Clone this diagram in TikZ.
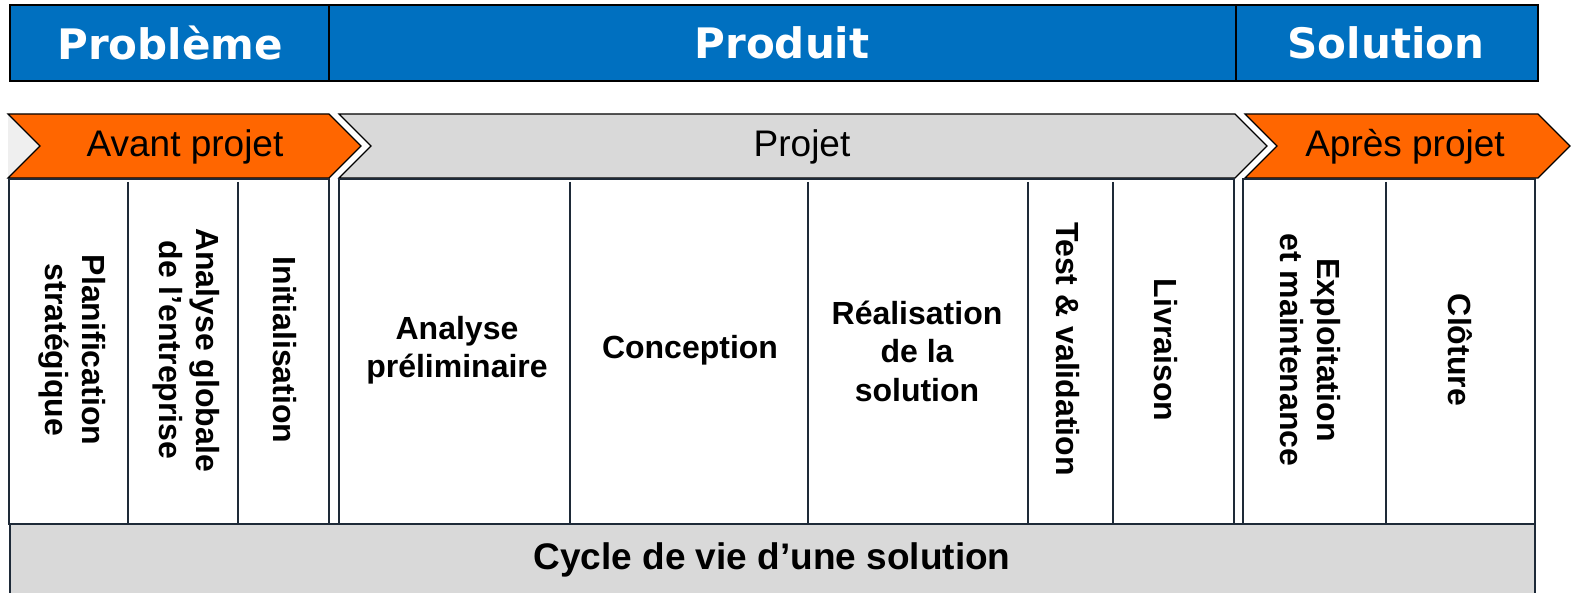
\documentclass[tikz,border=0pt]{standalone}
\usepackage{fontspec}
\setmainfont{Liberation Sans}
\newfontfamily\verd{DejaVu Sans}
\definecolor{barblue}{HTML}{0070C0}
\definecolor{orng}{HTML}{FF6600}
\definecolor{lgray}{HTML}{D9D9D9}
\definecolor{notch}{HTML}{EFEFEF}
\definecolor{edge}{HTML}{1E2A38}
\tikzset{
  barcell/.style={fill=barblue,draw=black,line width=1.5pt},
  bartext/.style={text=white,font=\verd\bfseries\fontsize{42}{48}\selectfont,inner sep=0pt},
  phase/.style={draw=black,line width=1.2pt,line join=miter},
  phasetext/.style={font=\fontsize{37}{42}\selectfont,inner sep=0pt},
  cellbox/.style={fill=white,draw=edge,line width=1.5pt},
  divider/.style={draw=edge,line width=1.5pt},
  vtext/.style={rotate=-90,align=center,font=\bfseries\fontsize{32}{37}\selectfont,inner sep=0pt},
  htext/.style={align=center,font=\bfseries\fontsize{32}{38.5}\selectfont,inner sep=0pt},
  bigtext/.style={font=\bfseries\fontsize{37}{42}\selectfont,inner sep=0pt},
}
\begin{document}
\begin{tikzpicture}[x=1pt,y=-1pt]
\useasboundingbox (0,0) rectangle (1571,593);
% top bar
\path[barcell] (10,5) rectangle (1538,81);
\draw[line width=1.5pt] (329,5) -- (329,81);
\draw[line width=1.5pt] (1236,5) -- (1236,81);
\node[bartext] (prob) at (170,43) {Problème};
\node[bartext] (prod) at (782,43) {Produit};
\node[bartext] (sol) at (1386,43) {Solution};
% phase arrows
\fill[notch] (8,114) -- (40,146) -- (8,178) -- cycle;
\path[phase,fill=orng] (8,114) -- (329,114) -- (361,146) -- (329,178) -- (8,178) -- (40,146) -- cycle;
\path[phase,fill=lgray] (339,114) -- (1235,114) -- (1267,146) -- (1235,178) -- (339,178) -- (371,146) -- cycle;
\path[phase,fill=orng] (1245,114) -- (1538,114) -- (1570,146) -- (1538,178) -- (1245,178) -- (1277,146) -- cycle;
\node[phasetext] (avant) at (185,147) {Avant projet};
\node[phasetext] (projet) at (802,147) {Projet};
\node[phasetext] (apres) at (1405,147) {Après projet};
% cell sections
\path[cellbox] (9,179) rectangle (329,524);
\path[cellbox] (339,179) rectangle (1234,524);
\path[cellbox] (1243,179) rectangle (1535,524);
\foreach \x in {128,238,570,808,1028,1113,1386}{
  \draw[divider] (\x,182) -- (\x,524);
}
% bottom bar
\path[cellbox,fill=lgray] (10,524) rectangle (1535,600);
\node[bigtext] (cycle) at (772,560) {Cycle de vie d’une solution};
% vertical labels
\node[vtext] (plan) at (72,350) {Planification\\stratégique};
\node[vtext] (anaglob) at (186,350) {Analyse globale\\de l’entreprise};
\node[vtext] (init) at (285,350) {Initialisation};
\node[vtext] (test) at (1068,349) {Test \& validation};
\node[vtext] (livr) at (1166,350) {Livraison};
\node[vtext] (expl) at (1310,350) {Exploitation\\et maintenance};
\node[vtext] (clot) at (1460,350) {Clôture};
% horizontal labels
\node[htext] (anapre) at (457,350) {Analyse\\préliminaire};
\node[htext] (conc) at (690,350) {Conception};
\node[htext] (real) at (917,351) {Réalisation\\de la\\solution};
\end{tikzpicture}
\end{document}
